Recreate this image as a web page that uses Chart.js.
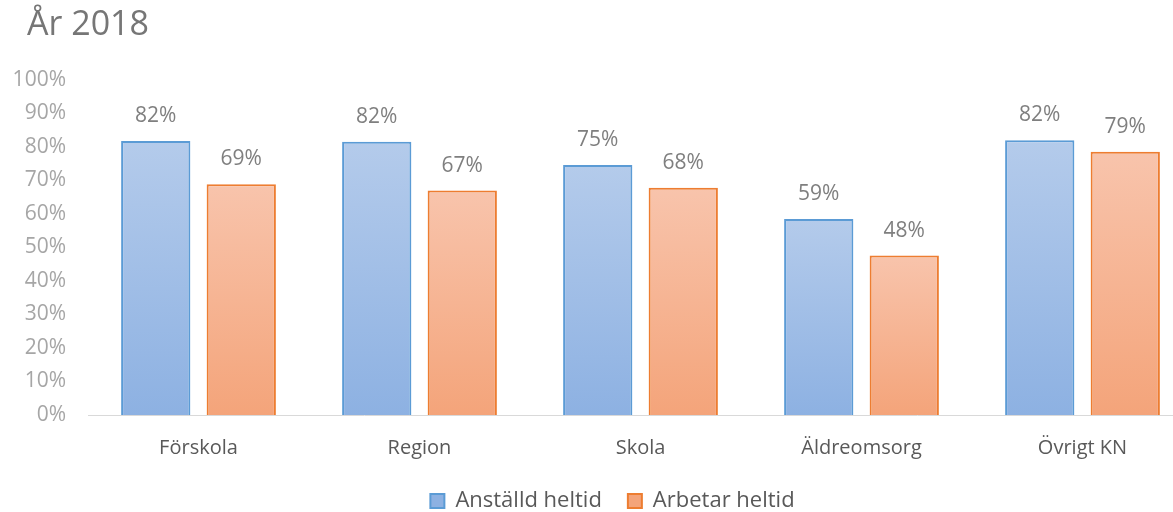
<!DOCTYPE html>
<html>
<head>
<meta charset="utf-8">
<script src="https://cdn.jsdelivr.net/npm/chart.js@4.4.1/dist/chart.umd.min.js"></script>
<style>
  html, body { margin: 0; padding: 0; background: #fff; overflow: hidden; }
  #wrap { position: relative; width: 1226px; height: 512px; }
  #title {
    position: absolute; left: 27px; top: 5px;
    font: 34px/34px 'Open Sans', sans-serif; color: #767676;
  }
</style>
</head>
<body>
<div id="wrap">
  <div id="title">År 2018</div>
  <canvas id="chart"></canvas>
</div>
<script>
const categories = ['Förskola', 'Region', 'Skola', 'Äldreomsorg', 'Övrigt KN'];
const anstalldHeltid = [81.8, 81.6, 74.6, 58.5, 82.0];
const arbetarHeltid = [68.9, 67.0, 67.8, 47.6, 78.6];
const yTicks = [0, 10, 20, 30, 40, 50, 60, 70, 80, 90, 100];

const COLORS = {
    blueBorder: '#5b9bd5',
    blueTop: 'rgb(180,203,235)',
    blueBottom: 'rgb(141,177,226)',
    orangeBorder: '#ed7d31',
    orangeTop: 'rgb(248,196,172)',
    orangeBottom: 'rgb(244,164,122)',
    tick: '#a6a6a6',
    label: '#7f7f7f',
    category: '#595959',
    axis: '#d9d9d9'
};

const FONT = "'Open Sans', sans-serif";

// gradient per bar, from bar top to its base
function barGradient(top, bottom, solid) {
    return (ctx) => {
        const chart = ctx.chart;
        if (ctx.type !== 'data' || !chart.scales.y) return solid;
        const y = chart.scales.y;
        const y0 = y.getPixelForValue(ctx.raw);
        const y1 = y.getPixelForValue(0);
        if (!isFinite(y0) || !isFinite(y1) || y0 === y1) return solid;
        const g = chart.ctx.createLinearGradient(0, y0, 0, y1);
        g.addColorStop(0, top);
        g.addColorStop(1, bottom);
        return g;
    };
}

const valueLabels = {
    id: 'valueLabels',
    afterDatasetsDraw(chart) {
        const ctx = chart.ctx;
        ctx.save();
        ctx.font = '21px ' + FONT;
        ctx.fillStyle = COLORS.label;
        ctx.textAlign = 'center';
        ctx.textBaseline = 'middle';
        chart.data.datasets.forEach((ds, i) => {
            chart.getDatasetMeta(i).data.forEach((bar, j) => {
                ctx.fillText(Math.round(ds.data[j]) + '%', bar.x, bar.y - 25);
            });
        });
        ctx.restore();
    }
};

// the original legend sits a bit right of the plot centre
const legendShift = {
    id: 'legendShift',
    afterLayout(chart) {
        chart.legend.left += 16;
        chart.legend.right += 16;
    }
};

new Chart(document.getElementById('chart'), {
    type: 'bar',
    data: {
        labels: categories,
        datasets: [{
            label: 'Anställd heltid',
            data: anstalldHeltid,
            backgroundColor: barGradient(COLORS.blueTop, COLORS.blueBottom, 'rgb(165,192,232)'),
            borderColor: COLORS.blueBorder,
            borderWidth: 2,
            categoryPercentage: 0.774,
            barPercentage: 0.81
        }, {
            label: 'Arbetar heltid',
            data: arbetarHeltid,
            backgroundColor: barGradient(COLORS.orangeTop, COLORS.orangeBottom, 'rgb(247,183,152)'),
            borderColor: COLORS.orangeBorder,
            borderWidth: 2,
            categoryPercentage: 0.774,
            barPercentage: 0.81
        }]
    },
    options: {
        responsive: true,
        maintainAspectRatio: false,
        animation: false,
        layout: { padding: { top: 80, right: 33, left: 0, bottom: -10 } },
        plugins: {
            title: { display: false },
            tooltip: { enabled: false },
            legend: {
                position: 'bottom',
                labels: {
                    color: COLORS.category,
                    font: { family: FONT, size: 22 },
                    boxWidth: 14,
                    boxHeight: 14,
                    padding: 26
                }
            }
        },
        scales: {
            x: {
                afterFit: (scale) => { scale.height = scale.height - 17; },
                grid: { display: false, drawTicks: false },
                border: { display: true, color: COLORS.axis, width: 1 },
                ticks: {
                    color: COLORS.category,
                    font: { family: FONT, size: 20 },
                    padding: 21
                }
            },
            y: {
                min: 0,
                max: 100,
                afterFit: (scale) => { scale.width = 88; },
                afterBuildTicks: (scale) => { scale.ticks = yTicks.map(v => ({ value: v })); },
                grid: { display: false, drawTicks: false },
                border: { display: false },
                ticks: {
                    color: COLORS.tick,
                    font: { family: FONT, size: 21 },
                    padding: 22,
                    callback: (v) => v + '%'
                }
            }
        }
    },
    plugins: [valueLabels, legendShift]
});
</script>
</body>
</html>
